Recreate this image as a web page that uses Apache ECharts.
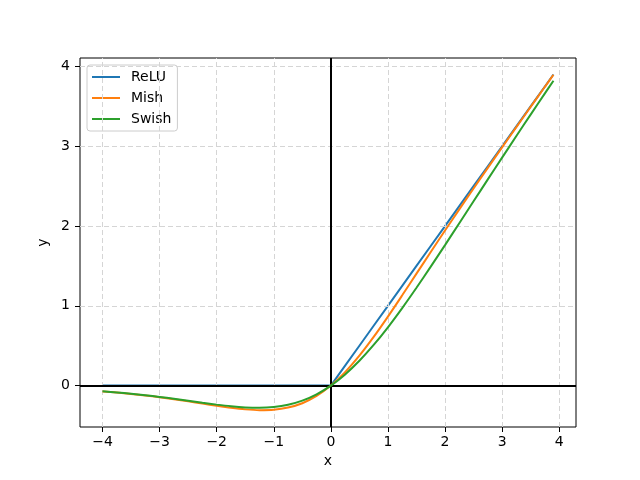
<!DOCTYPE html>
<html><head><meta charset="utf-8">
<script src="https://cdn.jsdelivr.net/npm/echarts@6/dist/echarts.min.js"></script>
<style>html,body{margin:0;padding:0;background:#fff}#c{width:640px;height:480px}</style>
</head><body><div id="c"></div>
<script>
const xs    = [-4,-3.75,-3.5,-3.25,-3,-2.75,-2.5,-2.25,-2,-1.75,-1.5,-1.25,-1,-0.75,-0.5,-0.25,0,0.25,0.5,0.75,1,1.25,1.5,1.75,2,2.25,2.5,2.75,3,3.25,3.5,3.75,3.9];
const relu  = [0,0,0,0,0,0,0,0,0,0,0,0,0,0,0,0,0,0.25,0.5,0.75,1,1.25,1.5,1.75,2,2.25,2.5,2.75,3,3.25,3.5,3.75,3.9];
const mish  = [-0.0726,-0.0872,-0.1041,-0.1236,-0.1456,-0.1702,-0.1968,-0.2247,-0.2525,-0.2780,-0.2980,-0.3084,-0.3034,-0.2751,-0.2208,-0.1299,0,0.1696,0.3752,0.6100,0.8651,1.1319,1.4034,1.6749,1.9440,2.2095,2.4714,2.7302,2.9865,3.2410,3.4940,3.7460,3.8969];
const swish = [-0.0719,-0.0862,-0.1026,-0.1213,-0.1423,-0.1652,-0.1896,-0.2145,-0.2384,-0.2591,-0.2736,-0.2784,-0.2689,-0.2406,-0.1888,-0.1095,0,0.1405,0.3112,0.5094,0.7311,0.9716,1.2264,1.4909,1.7616,2.0355,2.3104,2.5848,2.8577,3.1287,3.3974,3.6638,3.8226];
const xTicks = [-4,-3,-2,-1,0,1,2,3,4];
const yTicks = [0,1,2,3,4];
const names = ['ReLU','Mish','Swish'];
const colors = ['#1f77b4','#ff7f0e','#2ca02c'];

const pair = ys => xs.map((x,i)=>[x, ys[i]]);
const font = 'DejaVu Sans';
const gridStyle = {color:'#d5d5d5', width:1, type:[5,3]};
const gridLines = xTicks.map(v=>({xAxis:v})).concat(yTicks.map(v=>({yAxis:v})));

const chart = echarts.init(document.getElementById('c'));
chart.setOption({
  animation:false,
  textStyle:{fontFamily:font},
  grid:{left:80, right:64, top:58, bottom:53, show:true, borderColor:'#000', borderWidth:1, backgroundColor:'transparent'},
  xAxis:{type:'value', min:-4.395, max:4.295,
    name:'x', nameLocation:'middle', nameGap:27, nameTextStyle:{fontFamily:font, fontSize:14, color:'#000'},
    axisLine:{show:false, onZero:false},
    axisTick:{show:true, length:5, lineStyle:{color:'#000'}, customValues:xTicks},
    axisLabel:{fontFamily:font, fontSize:14, color:'#000', margin:8, customValues:xTicks, formatter:v=>String(v).replace('-','\u2212')},
    splitLine:{show:false}},
  yAxis:{type:'value', min:-0.519, max:4.107,
    name:'y', nameLocation:'middle', nameGap:25, nameRotate:90, nameTextStyle:{fontFamily:font, fontSize:14, color:'#000'},
    axisLine:{show:false, onZero:false},
    axisTick:{show:true, length:5, lineStyle:{color:'#000'}, customValues:yTicks},
    axisLabel:{fontFamily:font, fontSize:14, color:'#000', margin:10, customValues:yTicks},
    splitLine:{show:false}},
  legend:{orient:'vertical', left:87, top:65, data:names, icon:'rect', itemWidth:28, itemHeight:2, itemGap:7,
    padding:[5,6,5,5], borderColor:'#cccccc', borderWidth:1, borderRadius:3, backgroundColor:'rgba(255,255,255,0.8)',
    textStyle:{fontFamily:font, fontSize:14, color:'#000', padding:[0,0,0,6]}},
  series:[
    {type:'line', name:'_grid', data:[[0,0]], showSymbol:false, symbolSize:0, lineStyle:{opacity:0}, z:1, silent:true,
      markLine:{silent:true, symbol:'none', label:{show:false}, lineStyle:gridStyle, data:gridLines}},
    {type:'line', name:'_axes', data:[[0,0]], showSymbol:false, symbolSize:0, lineStyle:{opacity:0}, z:3, silent:true,
      markLine:{silent:true, symbol:'none', label:{show:false}, lineStyle:{color:'#000', width:2, type:'solid'}, data:[{xAxis:0},{yAxis:0}]}},
  ].concat(names.map((n,i)=>({
    type:'line', name:n, data:pair([relu,mish,swish][i]), smooth:i===0?false:0.3, showSymbol:false, z:4+i,
    lineStyle:{color:colors[i], width:2}, itemStyle:{color:colors[i]}
  })))
});
</script></body></html>
